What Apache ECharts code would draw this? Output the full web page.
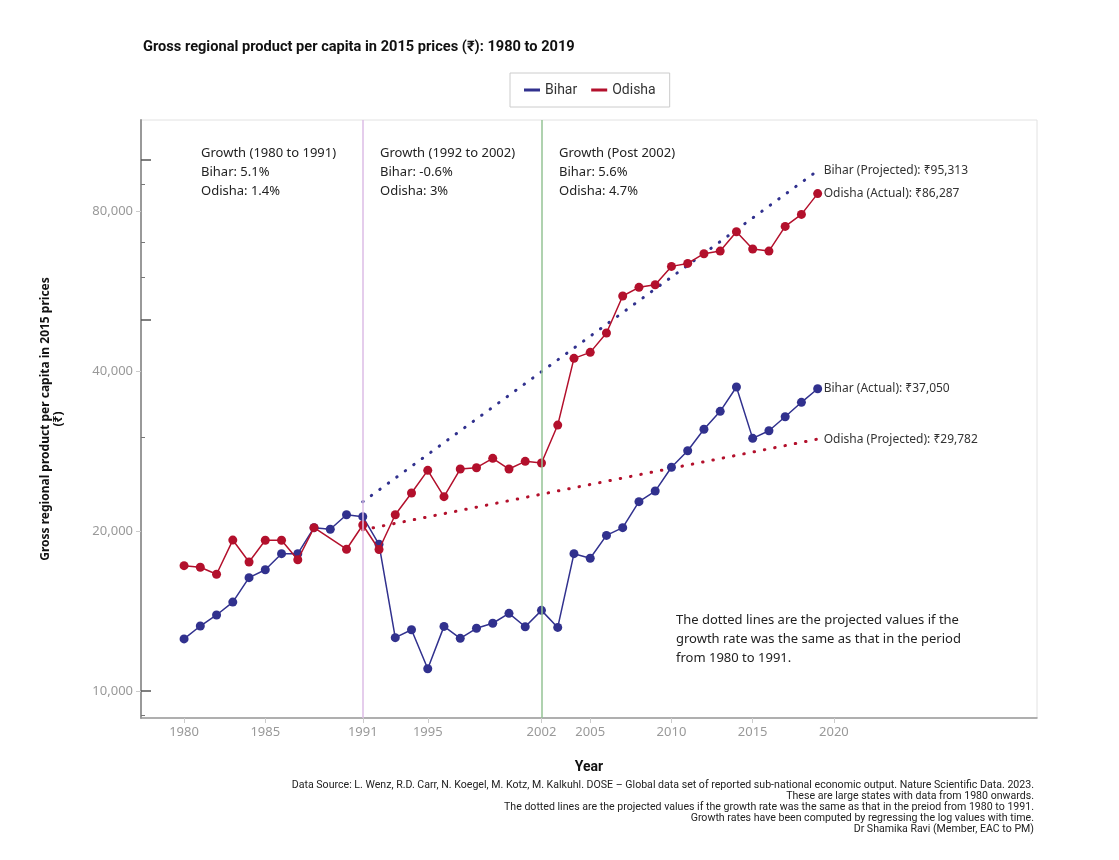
<!DOCTYPE html>
<html>
<head>
<meta charset="utf-8">
<title>Gross regional product per capita</title>
<script src="https://cdn.jsdelivr.net/npm/echarts@6/dist/echarts.min.js"></script>
<style>
  html, body { margin: 0; padding: 0; background: #fff; }
  #main { width: 1119px; height: 860px; }
</style>
</head>
<body>
<div id="main"></div>
<script>
// values (log scale, 2015 prices, ₹)
const years = [1980, 1981, 1982, 1983, 1984, 1985, 1986, 1987, 1988, 1989,
  1990, 1991, 1992, 1993, 1994, 1995, 1996, 1997, 1998, 1999,
  2000, 2001, 2002, 2003, 2004, 2005, 2006, 2007, 2008, 2009,
  2010, 2011, 2012, 2013, 2014, 2015, 2016, 2017, 2018, 2019];

const bihar = [12530, 13250, 13900, 14700, 16340, 16910, 18130, 18130, 20290, 20150,
  21460, 21280, 18880, 12600, 13040, 11010, 13230, 12560, 13120, 13410,
  14000, 13210, 14180, 13170, 18130, 17770, 19620, 20290, 22710, 23780,
  26360, 28320, 31080, 33590, 37320, 29880, 30880, 32810, 34930, 37050];

// 1989 has no Odisha point in the reference
const odisha = [17210, 17090, 16580, 19230, 17490, 19210, 19210, 17660, 20290, null,
  18480, 20530, 18460, 21460, 23580, 26010, 23210, 26160, 26310, 27400,
  26160, 27050, 26850, 31650, 42260, 43370, 47160, 55360, 57480, 58130,
  62950, 63770, 66500, 67270, 73140, 67860, 67270, 74850, 78860, 86287];

// projections at the 1980-1991 growth rate
const projYears = [1991, 2019];
const biharProj = [22700, 95313];
const odishaProj = [20100, 29782];

const dividerYears = [1991, 2002];
const xTicks = [1980, 1985, 1991, 1995, 2002, 2005, 2010, 2015, 2020];
const yTicks = [10000, 20000, 40000, 80000];
const yMajorInner = [10000, 50000, 100000];
const yMinorInner = [9000, 30000, 60000, 70000, 90000];

const growthNotes = [
  'Growth (1980 to 1991)\nBihar: 5.1%\nOdisha: 1.4%',
  'Growth (1992 to 2002)\nBihar: -0.6%\nOdisha: 3%',
  'Growth (Post 2002)\nBihar: 5.6%\nOdisha: 4.7%'
];
const dottedNote = 'The dotted lines are the projected values if the\ngrowth rate was the same as that in the period\nfrom 1980 to 1991.';
const footNote = [
  'Data Source: L. Wenz, R.D. Carr, N. Koegel, M. Kotz, M. Kalkuhl. DOSE \u2013 Global data set of reported sub-national economic output. Nature Scientific Data. 2023.',
  'These are large states with data from 1980 onwards.',
  'The dotted lines are the projected values if the growth rate was the same as that in the preiod from 1980 to 1991.',
  'Growth rates have been computed by regressing the log values with time.',
  'Dr Shamika Ravi (Member, EAC to PM)'
];

const BLUE = '#31318e';
const RED = '#b3102c';
const FONT = '"Noto Sans", "Open Sans", sans-serif';
const NARROW = '"Liberation Sans Narrow", "Roboto", sans-serif';

const fmt = v => v.toLocaleString('en-US');
const pairs = (xs, ys) => xs.map((x, i) => [x, ys[i]]);
const lastOf = arr => arr[arr.length - 1];

const Y_MIN = 8895;
const Y_MAX = 118700;

function logAxis(extra) {
  return Object.assign({
    type: 'log',
    logBase: 10,
    min: Y_MIN,
    max: Y_MAX,
    position: 'left',
    offset: 0,
    splitLine: { show: false },
    minorTick: { show: false },
    minorSplitLine: { show: false },
    axisLine: { show: false },
    axisLabel: { show: false },
    axisTick: { show: false }
  }, extra);
}

function endLabel(text) {
  return { show: true, distance: 6, color: '#333', fontSize: 12, formatter: text };
}

const chart = echarts.init(document.getElementById('main'));

const option = {
  backgroundColor: '#fff',
  animation: false,
  textStyle: { fontFamily: FONT },
  title: {
    text: 'Gross regional product per capita in 2015 prices (\u20b9): 1980 to 2019',
    left: 138,
    top: 35,
    textStyle: { fontFamily: NARROW, fontSize: 14.6, fontWeight: 'bold', color: '#111' }
  },
  legend: {
    data: ['Bihar', 'Odisha'],
    left: 510,
    top: 73,
    padding: [10, 14],
    itemGap: 14,
    itemWidth: 16,
    itemHeight: 3,
    icon: 'rect',
    borderColor: '#ccc',
    borderWidth: 1,
    textStyle: { fontFamily: NARROW, fontSize: 14, color: '#333' }
  },
  grid: {
    left: 141,
    right: 82,
    top: 120,
    bottom: 142,
    show: true,
    borderColor: '#e2e2e2',
    borderWidth: 1
  },
  xAxis: {
    type: 'value',
    min: 1977.35,
    max: 2032.5,
    name: 'Year',
    nameLocation: 'middle',
    nameGap: 42,
    nameTextStyle: { fontFamily: NARROW, fontSize: 14, fontWeight: 'bold', color: '#111' },
    splitLine: { show: false },
    axisLine: { lineStyle: { color: '#999', width: 1.5 } },
    axisTick: { customValues: xTicks, length: 5, lineStyle: { color: '#ccc' } },
    axisLabel: { customValues: xTicks, color: '#999', fontSize: 13, margin: 8, formatter: v => String(v) }
  },
  yAxis: [
    logAxis({
      name: 'Gross regional product per capita in 2015 prices\n(\u20b9)',
      nameLocation: 'middle',
      nameGap: 76,
      nameRotate: 90,
      nameTextStyle: { fontSize: 12, fontWeight: 'bold', color: '#111', lineHeight: 13 },
      axisLine: { show: true, lineStyle: { color: '#999', width: 2 } },
      axisTick: { show: true, customValues: yTicks, length: 5, lineStyle: { color: '#ccc' } },
      axisLabel: { show: true, customValues: yTicks, color: '#999', fontSize: 13, margin: 8, formatter: v => fmt(Math.round(v)) }
    }),
    logAxis({
      axisTick: { show: true, inside: true, customValues: yMajorInner, length: 10, lineStyle: { color: '#555', width: 1.5 } }
    }),
    logAxis({
      axisTick: { show: true, inside: true, customValues: yMinorInner, length: 4, lineStyle: { color: '#777', width: 1 } }
    })
  ],
  series: [
    {
      name: 'Bihar (Projected)',
      type: 'line',
      data: pairs(projYears, biharProj),
      symbol: 'none',
      color: BLUE,
      lineStyle: { color: BLUE, width: 3, type: [0.5, 10], cap: 'round' },
      endLabel: endLabel('Bihar (Projected): \u20b9' + fmt(lastOf(biharProj))),
      silent: true,
      z: 2
    },
    {
      name: 'Odisha (Projected)',
      type: 'line',
      data: pairs(projYears, odishaProj),
      symbol: 'none',
      color: RED,
      lineStyle: { color: RED, width: 3, type: [0.5, 10], cap: 'round' },
      endLabel: endLabel('Odisha (Projected): \u20b9' + fmt(lastOf(odishaProj))),
      silent: true,
      z: 2
    },
    {
      name: 'Bihar',
      type: 'line',
      data: pairs(years, bihar),
      color: BLUE,
      symbol: 'circle',
      symbolSize: 9,
      lineStyle: { color: BLUE, width: 1.5 },
      itemStyle: { color: BLUE },
      endLabel: endLabel('Bihar (Actual): \u20b9' + fmt(lastOf(bihar))),
      markLine: {
        silent: true,
        symbol: ['none', 'none'],
        label: { show: false },
        lineStyle: { type: 'solid', width: 1.5 },
        data: [
          { xAxis: dividerYears[0], lineStyle: { color: '#dcbde6' } },
          { xAxis: dividerYears[1], lineStyle: { color: '#94c394' } }
        ]
      },
      z: 3
    },
    {
      name: 'Odisha',
      type: 'line',
      data: pairs(years, odisha),
      connectNulls: true,
      color: RED,
      symbol: 'circle',
      symbolSize: 9,
      lineStyle: { color: RED, width: 1.5 },
      itemStyle: { color: RED },
      endLabel: endLabel('Odisha (Actual): \u20b9' + fmt(lastOf(odisha))),
      z: 4
    }
  ],
  graphic: [
    {
      type: 'text', left: 201, top: 144,
      style: { text: growthNotes[0], font: '13px ' + FONT, fill: '#222', lineHeight: 19 }
    },
    {
      type: 'text', left: 380, top: 144,
      style: { text: growthNotes[1], font: '13px ' + FONT, fill: '#222', lineHeight: 19 }
    },
    {
      type: 'text', left: 559, top: 144,
      style: { text: growthNotes[2], font: '13px ' + FONT, fill: '#222', lineHeight: 19 }
    },
    {
      type: 'text', left: 676, top: 611,
      style: { text: dottedNote, font: '13px ' + FONT, fill: '#222', lineHeight: 19 }
    }
  ].concat(footNote.map((line, i) => ({
    type: 'text',
    right: 85,
    top: 780 + i * 11,
    style: { text: line, font: '10.6px ' + NARROW, fill: '#222' }
  })))
};

chart.setOption(option);
</script>
</body>
</html>
